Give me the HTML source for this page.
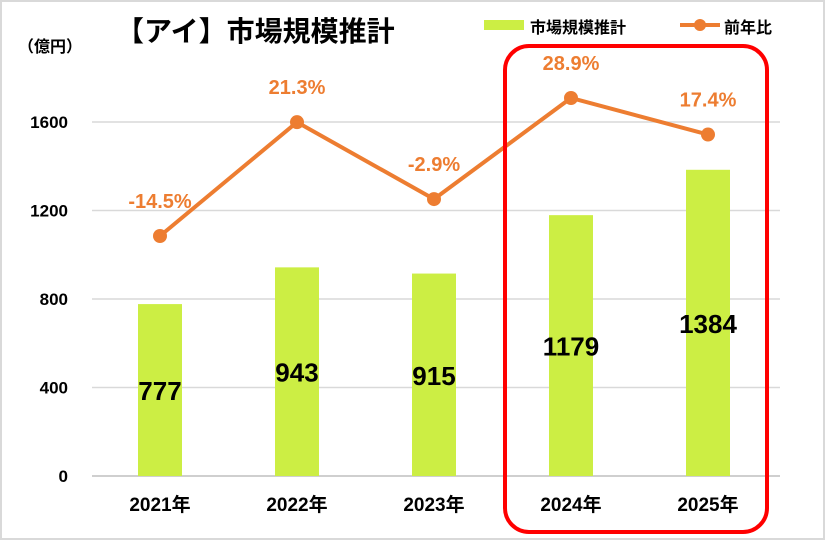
<!DOCTYPE html>
<html><head><meta charset="utf-8"><style>
body{margin:0;background:#fff;}
svg{display:block;font-family:"Liberation Sans","Noto Sans CJK JP",sans-serif;}
</style></head><body>
<svg id="chart" width="827" height="542">
<rect x="1" y="1" width="823" height="538" fill="#fff" stroke="#d9d9d9" stroke-width="2"/>
<text x="116" y="41" font-size="28" font-weight="bold" fill="#000">【アイ】市場規模推計</text>
<text x="18" y="52" font-size="16" font-weight="bold" fill="#000">（億円）</text>
<g>
<rect x="484" y="20" width="40" height="10" fill="#ccee44"/>
<text x="530" y="33" font-size="16" font-weight="bold">市場規模推計</text>
<line x1="680" y1="25" x2="720" y2="25" stroke="#ed7d31" stroke-width="4"/>
<circle cx="700" cy="25" r="6" fill="#ed7d31"/>
<text x="724" y="33" font-size="16" font-weight="bold">前年比</text>
</g>
<g id="grid"></g><g id="bars"></g><g id="line"></g>
<rect x="505" y="46" width="262" height="486" rx="24" fill="none" stroke="#ff0000" stroke-width="4"/>
</svg>
<script>
const categories=["2021年","2022年","2023年","2024年","2025年"];
const marketSize=[777,943,915,1179,1384];
const yoy=[-14.5,21.3,-2.9,28.9,17.4];
const yoyLabels=["-14.5%","21.3%","-2.9%","28.9%","17.4%"];
const yTicks=[0,400,800,1200,1600];
const NS="http://www.w3.org/2000/svg";
const y=v=>476-v*(354/1600);
const x=i=>160+i*137;
const yp=v=>236-(v+14.5)*3.18;
function mk(tag,attrs,parent,txt){const e=document.createElementNS(NS,tag);for(const k in attrs)e.setAttribute(k,attrs[k]);if(txt!=null)e.textContent=txt;parent.appendChild(e);return e;}
const grid=document.getElementById('grid'),bars=document.getElementById('bars'),line=document.getElementById('line');
yTicks.forEach(t=>{
 const l=mk('line',{x1:92,x2:780,y1:y(t),y2:y(t),stroke:t===0?'#bfbfbf':'#d9d9d9','stroke-width':1.5},grid);
 
 
 const tx=mk('text',{x:68,y:y(t)+6,'font-size':17,'font-weight':'bold','text-anchor':'end'},grid,t);
 
 
});
categories.forEach((c,i)=>{
 const r=mk('rect',{x:x(i)-22,y:y(marketSize[i]),width:44,height:y(0)-y(marketSize[i]),fill:'#ccee44'},bars);
 
 
 const v=mk('text',{x:x(i),y:(y(0)+y(marketSize[i]))/2+10,'font-size':26,'font-weight':'bold','text-anchor':'middle',fill:'#000'},bars,marketSize[i]);
 
 
 const cl=mk('text',{x:x(i),y:511,'font-size':19,'font-weight':'bold','text-anchor':'middle'},bars,c);
 
 
});
const pl=mk('polyline',{points:yoy.map((v,i)=>x(i)+','+yp(v)).join(' '),fill:'none',stroke:'#ed7d31','stroke-width':4},line);


yoy.forEach((v,i)=>{
 const c=mk('circle',{cx:x(i),cy:yp(v),r:7,fill:'#ed7d31'},line);
 
 
 const t=mk('text',{x:x(i),y:yp(v)-28,'font-size':20,'font-weight':'bold','text-anchor':'middle',fill:'#ed7d31'},line,yoyLabels[i]);
 
 
});
</script>
</body></html>
